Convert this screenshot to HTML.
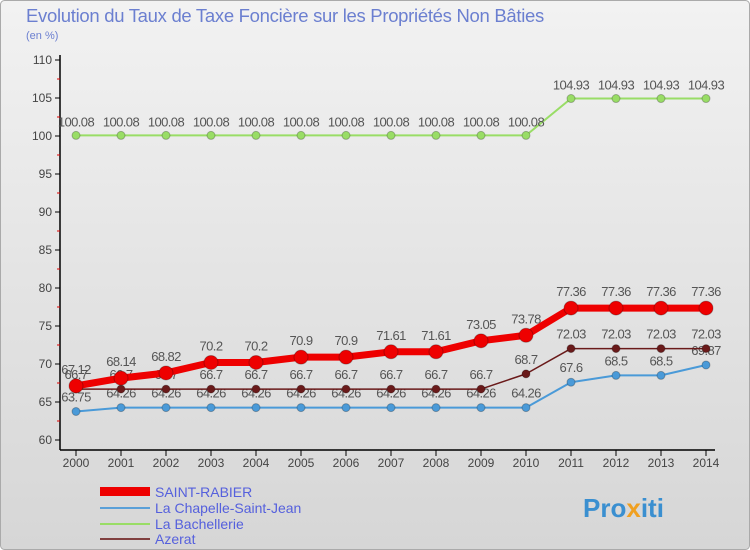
<!DOCTYPE html>
<html><head><meta charset="utf-8"><style>
body{margin:0;background:#fff}
svg{display:block;font-family:"Liberation Sans",sans-serif}
</style></head><body>
<svg id="c" width="750" height="550" viewBox="0 0 750 550">
<defs><linearGradient id="bg" x1="0" y1="0" x2="0" y2="1"><stop offset="0" stop-color="#f2f2f2"/><stop offset="1" stop-color="#d6d6d6"/></linearGradient></defs>
<rect x="0.5" y="0.5" width="749" height="549" rx="4" fill="url(#bg)" stroke="#aaa"/>
<text x="26" y="22" font-size="18.5" fill="#6b7fd0" letter-spacing="-0.3">Evolution du Taux de Taxe Foncière sur les Propriétés Non Bâties</text>
<text x="26" y="39" font-size="11" fill="#6b7fd0">(en %)</text>
<g id="axes"></g>
<g id="series"></g>
<g id="legend">
<rect x="100" y="487" width="50" height="9" fill="#e00"/>
<text x="155" y="497" font-size="14" fill="#5560dd">SAINT-RABIER</text>
<line x1="100" y1="508" x2="150" y2="508" stroke="#5aa0d8" stroke-width="2"/>
<text x="155" y="513" font-size="14" fill="#5560dd">La Chapelle-Saint-Jean</text>
<line x1="100" y1="524" x2="150" y2="524" stroke="#99dd66" stroke-width="2"/>
<text x="155" y="529" font-size="14" fill="#5560dd">La Bachellerie</text>
<line x1="100" y1="539" x2="150" y2="539" stroke="#804040" stroke-width="2"/>
<text x="155" y="544" font-size="14" fill="#5560dd">Azerat</text>
</g>
<text x="583" y="517" font-size="26" font-weight="bold" fill="#3a8fd0">Pro<tspan fill="#f0a020">x</tspan>iti</text>
</svg>
<script>
const years=[2000,2001,2002,2003,2004,2005,2006,2007,2008,2009,2010,2011,2012,2013,2014];
const yTicks=[60,65,70,75,80,85,90,95,100,105,110];
const saintRabier=[67.12,68.14,68.82,70.2,70.2,70.9,70.9,71.61,71.61,73.05,73.78,77.36,77.36,77.36,77.36];
const chapelle=[63.75,64.26,64.26,64.26,64.26,64.26,64.26,64.26,64.26,64.26,64.26,67.6,68.5,68.5,69.87];
const bachellerie=[100.08,100.08,100.08,100.08,100.08,100.08,100.08,100.08,100.08,100.08,100.08,104.93,104.93,104.93,104.93];
const azerat=[66.7,66.7,66.7,66.7,66.7,66.7,66.7,66.7,66.7,66.7,68.7,72.03,72.03,72.03,72.03];
const NS="http://www.w3.org/2000/svg";
const x=i=>76+i*45;
const y=v=>440-(v-60)*7.6;
function mk(tag,attrs,parent){const e=document.createElementNS(NS,tag);for(const k in attrs)e.setAttribute(k,attrs[k]);parent.appendChild(e);return e;}
const ax=document.getElementById('axes');
let l=mk('line',{x1:60,y1:55,x2:60,y2:450,stroke:'#000','stroke-width':1.5},ax);


l=mk('line',{x1:60,y1:450,x2:715,y2:450,stroke:'#000','stroke-width':1.5},ax);


yTicks.forEach((t,i)=>{
 mk('line',{x1:55,y1:y(t),x2:60,y2:y(t),stroke:'#000'},ax);
 if(i<yTicks.length-1)mk('line',{x1:57,y1:y(t+2.5),x2:60,y2:y(t+2.5),stroke:'#d00'},ax);
 const tx=mk('text',{x:52,y:y(t)+4,'font-size':12,'text-anchor':'end',fill:'#444'},ax);
 tx.textContent=t;
 
 
});
years.forEach((yr,i)=>{
 mk('line',{x1:x(i),y1:450,x2:x(i),y2:456,stroke:'#000'},ax);
 const tx=mk('text',{x:x(i),y:467,'font-size':12,'text-anchor':'middle',fill:'#444'},ax);
 tx.textContent=yr;
 
 
});
const sg=document.getElementById('series');
function series(name,data,color,w,r,labelDy){
 const g=mk('g',{},sg);
 
 
 const p=mk('polyline',{points:data.map((v,i)=>x(i)+','+y(v)).join(' '),fill:'none',stroke:color,'stroke-width':w,'stroke-linejoin':'round'},g);
 
 
 data.forEach((v,i)=>{
  const c=mk('circle',{cx:x(i),cy:y(v),r:r,fill:color,stroke:'rgba(0,0,0,0.25)','stroke-width':1},g);
  
  
  const t=mk('text',{x:x(i),y:y(v)+labelDy,'font-size':13,'text-anchor':'middle',fill:'#555','letter-spacing':'-0.6'},g);
  t.textContent=String(v);
  
  
 });
}
series('la-bachellerie',bachellerie,'#99dd66',2,4,-9);
series('la-chapelle',chapelle,'#4a9ad8',2,4,-10);
series('azerat',azerat,'#6a1a1a',1.5,4,-10);
series('saint-rabier',saintRabier,'#ee0000',7,7,-12);
</script>
</body></html>
